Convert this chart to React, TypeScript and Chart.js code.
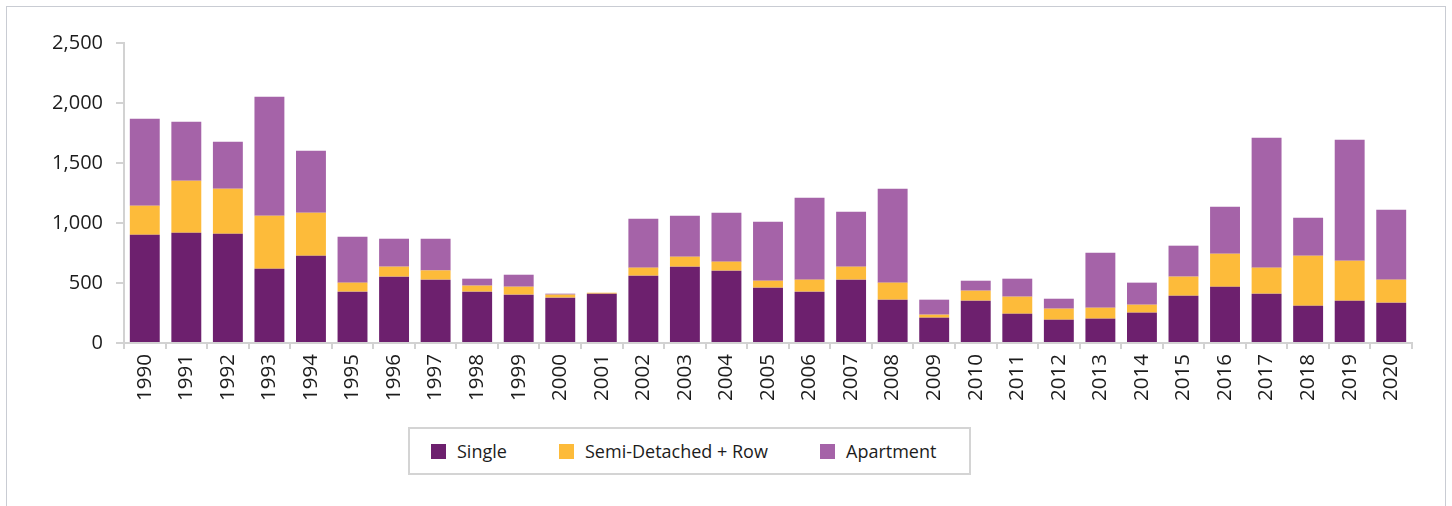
import React, { useEffect, useRef } from "react";
import { Chart, registerables } from "chart.js";

Chart.register(...registerables);

const years = [
  "1990", "1991", "1992", "1993", "1994", "1995", "1996", "1997", "1998", "1999",
  "2000", "2001", "2002", "2003", "2004", "2005", "2006", "2007", "2008", "2009",
  "2010", "2011", "2012", "2013", "2014", "2015", "2016", "2017", "2018", "2019", "2020",
];

const single = [
  902, 919, 911, 619, 728, 428, 553, 528, 428, 403,
  378, 411, 561, 636, 603, 461, 428, 528, 361, 211,
  353, 244, 194, 203, 253, 394, 469, 411, 311, 353, 336,
];

const semiDetachedRow = [
  242, 434, 375, 442, 358, 75, 83, 77, 50, 66,
  25, 8, 67, 83, 75, 58, 100, 108, 142, 25,
  83, 142, 92, 91, 66, 159, 275, 217, 417, 333, 192,
];

const apartment = [
  725, 491, 392, 992, 517, 383, 233, 264, 58, 100,
  8, 0, 408, 342, 408, 492, 683, 458, 783, 125,
  83, 150, 83, 459, 184, 258, 392, 1083, 316, 1008, 583,
];

const yTicks = [0, 500, 1000, 1500, 2000, 2500];

const seriesNames = ["Single", "Semi-Detached + Row", "Apartment"];
const seriesColors = ["#6d206e", "#fdbb3a", "#a563a8"];

const FONT = "'Open Sans', 'Noto Sans', sans-serif";
const TEXT = "#1c1c1c";
const AXIS = "#d2d2d2";

export default function App() {
  const ref = useRef<HTMLCanvasElement | null>(null);

  useEffect(() => {
    if (!ref.current) return;
    const chart = new Chart(ref.current, {
      type: "bar",
      data: {
        labels: years,
        datasets: [single, semiDetachedRow, apartment].map((d, i) => ({
          label: seriesNames[i],
          data: d,
          backgroundColor: seriesColors[i],
          borderWidth: 0,
          categoryPercentage: 1,
          barPercentage: 0.72,
        })),
      },
      options: {
        animation: false,
        responsive: false,
        layout: { padding: { top: 36, right: 33, left: 0, bottom: 0 } },
        plugins: { legend: { display: false }, tooltip: { enabled: false } },
        scales: {
          x: {
            stacked: true,
            grid: {
              drawOnChartArea: false,
              drawTicks: true,
              tickLength: 6,
              color: AXIS,
              lineWidth: 2,
              offset: true,
            },
            border: { color: AXIS, width: 2 },
            ticks: {
              minRotation: 90,
              maxRotation: 90,
              autoSkip: false,
              padding: 5,
              color: TEXT,
              font: { family: FONT, size: 20.5 },
            },
            afterFit: (s: any) => {
              s.height = 84;
            },
          },
          y: {
            stacked: true,
            min: 0,
            max: 2500,
            afterBuildTicks: (s: any) => {
              s.ticks = yTicks.map((v) => ({ value: v }));
            },
            grid: {
              drawOnChartArea: false,
              drawTicks: true,
              tickLength: 8,
              color: AXIS,
              lineWidth: 2,
            },
            border: { color: AXIS, width: 2 },
            ticks: {
              padding: 13,
              color: TEXT,
              font: { family: FONT, size: 20 },
              callback: (v: any) => Number(v).toLocaleString("en-US"),
            },
            afterFit: (s: any) => {
              s.width = 117;
            },
          },
        },
      },
    });
    return () => chart.destroy();
  }, []);

  const legendSquares = [431, 559, 820];
  const legendTexts = [457, 585, 846];

  return (
    <div style={{ position: "absolute", left: 0, top: 0, width: 1452, height: 506, overflow: "hidden", background: "#fff" }}>
      <div
        style={{
          position: "absolute",
          left: 6,
          top: 6,
          width: 1440,
          height: 530,
          border: "1px solid #c9ccd3",
          boxSizing: "border-box",
        }}
      />
      <canvas ref={ref} width={1438} height={420} style={{ position: "absolute", left: 7, top: 7 }} />
      <div
        style={{
          position: "absolute",
          left: 408,
          top: 427,
          width: 563,
          height: 48,
          border: "2px solid #d4d4d4",
          boxSizing: "border-box",
        }}
      />
      {seriesNames.map((n, i) => (
        <React.Fragment key={n}>
          <div
            style={{
              position: "absolute",
              left: legendSquares[i],
              top: 444,
              width: 15,
              height: 15,
              background: seriesColors[i],
            }}
          />
          <div
            style={{
              position: "absolute",
              left: legendTexts[i],
              top: 439,
              height: 24,
              lineHeight: "24px",
              fontFamily: FONT,
              fontSize: 18,
              color: TEXT,
              whiteSpace: "nowrap",
            }}
          >
            {n}
          </div>
        </React.Fragment>
      ))}
    </div>
  );
}
